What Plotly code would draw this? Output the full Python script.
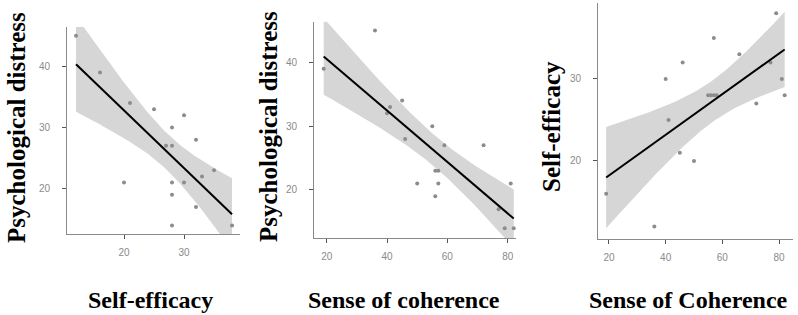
import numpy as np
import plotly.graph_objects as go

# ---- data ----
se_x = [12, 16, 21, 20, 25, 27, 28, 28, 28, 28, 28, 30, 30, 32, 32, 33, 35, 38]
pd1_y = [45, 39, 34, 21, 33, 27, 30, 27, 21, 19, 14, 32, 21, 28, 17, 22, 23, 14]

soc2_x = [19, 36, 40, 41, 45, 46, 50, 55, 56, 57, 57, 56, 59, 72, 77, 79, 81, 82]
pd2_y = [39, 45, 32, 33, 34, 28, 21, 30, 23, 23, 21, 19, 27, 27, 17, 14, 21, 14]

soc3_x = [19, 36, 40, 41, 45, 46, 50, 57, 55, 56, 57, 58, 66, 72, 77, 79, 81, 82]
se3_y = [16, 12, 30, 25, 21, 32, 20, 35, 28, 28, 28, 28, 33, 27, 32, 38, 30, 28]

x_titles = ["Self-efficacy", "Sense of coherence", "Sense of Coherence"]
y_titles = ["Psychological distress", "Psychological distress", "Self-efficacy"]
x_ticks = [[20, 30], [20, 40, 60, 80], [20, 40, 60, 80]]
y_ticks = [[20, 30, 40], [20, 30, 40], [20, 30]]

T975 = 2.12  # t quantile, df = 16

W, H = 798, 315

# panel geometry in pixels (left, right, top, bottom) and axis ranges
panels = [
    dict(px=(67, 240, 27, 234), xr=(10.5, 39.33), yr=(12.6, 46.42)),
    dict(px=(314, 516, 21.7, 238.3), xr=(15.79, 82.75), yr=(12.43, 46.36)),
    dict(px=(598, 793, 2.7, 239.3), xr=(16.12, 84.94), yr=(10.45, 39.3)),
]
ytitle_pos = [(16, 128), (268, 127), (551, 127)]
xtitle_pos = [(150, 300), (404, 300), (688, 300)]

series = [(se_x, pd1_y), (soc2_x, pd2_y), (soc3_x, se3_y)]

fig = go.Figure()

for i, ((xs, ys), p) in enumerate(zip(series, panels)):
    x = np.array(xs, float)
    y = np.array(ys, float)
    n = len(x)
    b, a = np.polyfit(x, y, 1)
    resid = y - (a + b * x)
    s = np.sqrt((resid ** 2).sum() / (n - 2))
    sxx = ((x - x.mean()) ** 2).sum()
    xg = np.linspace(x.min(), x.max(), 80)
    yg = a + b * xg
    hw = T975 * s * np.sqrt(1 / n + (xg - x.mean()) ** 2 / sxx)
    xa = "x" if i == 0 else f"x{i+1}"
    ya = "y" if i == 0 else f"y{i+1}"
    fig.add_trace(go.Scatter(
        x=np.concatenate([xg, xg[::-1]]),
        y=np.concatenate([yg + hw, (yg - hw)[::-1]]),
        fill="toself", fillcolor="#d6d6d6", line=dict(width=0),
        mode="lines", xaxis=xa, yaxis=ya, hoverinfo="skip", showlegend=False))
    fig.add_trace(go.Scatter(
        x=x, y=y, mode="markers", marker=dict(size=4, color="#8c8c8c"),
        xaxis=xa, yaxis=ya, showlegend=False, cliponaxis=False))
    fig.add_trace(go.Scatter(
        x=xg, y=yg, mode="lines", line=dict(color="black", width=2),
        xaxis=xa, yaxis=ya, showlegend=False))

    l, r, t, bt = p["px"]
    axis_common = dict(showline=True, linecolor="#8a8a8a", linewidth=1,
                       showgrid=False, zeroline=False, ticks="outside",
                       ticklen=4, tickcolor="#555555", tickwidth=1,
                       tickfont=dict(family="Liberation Sans", size=10, color="#8a8a8a"))
    xkey = "xaxis" if i == 0 else f"xaxis{i+1}"
    ykey = "yaxis" if i == 0 else f"yaxis{i+1}"
    fig.update_layout({
        xkey: dict(domain=[l / W, r / W], range=list(p["xr"]),
                   tickvals=x_ticks[i], anchor=ya, ticklabelstandoff=5, **axis_common),
        ykey: dict(domain=[(H - bt) / H, (H - t) / H], range=list(p["yr"]),
                   tickvals=y_ticks[i], anchor=xa, ticklabelstandoff=10, **axis_common),
    })

annotations = []
for i in range(3):
    xp, yp = ytitle_pos[i]
    annotations.append(dict(text=f"<b>{y_titles[i]}</b>", x=xp / W, y=(H - yp) / H,
                            xref="paper", yref="paper", showarrow=False, textangle=-90,
                            xanchor="center", yanchor="middle",
                            font=dict(family="Liberation Serif", size=25, color="black")))
    xp, yp = xtitle_pos[i]
    annotations.append(dict(text=f"<b>{x_titles[i]}</b>", x=xp / W, y=(H - yp) / H,
                            xref="paper", yref="paper", showarrow=False,
                            xanchor="center", yanchor="middle",
                            font=dict(family="Liberation Serif", size=24, color="black")))

fig.update_layout(width=W, height=H, margin=dict(l=0, r=0, t=0, b=0),
                  paper_bgcolor="white", plot_bgcolor="white",
                  annotations=annotations, showlegend=False)

fig.write_html("out.html")
